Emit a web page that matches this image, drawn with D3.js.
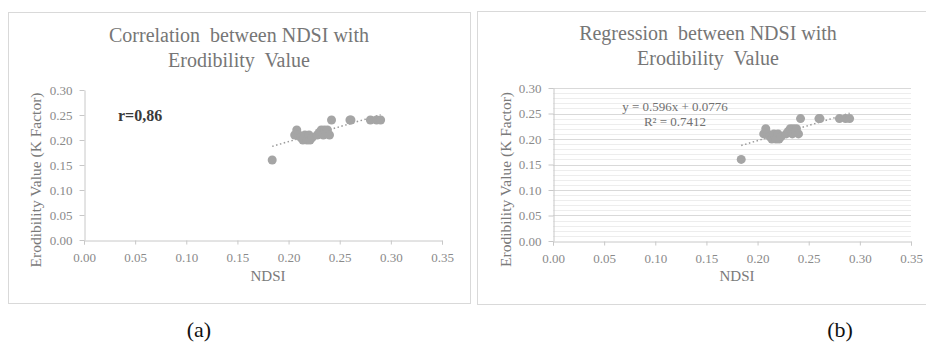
<!DOCTYPE html>
<html>
<head>
<meta charset="utf-8">
<script src="https://cdn.jsdelivr.net/npm/d3@7"></script>
<style>
  body { margin: 0; background: #fff; }
  svg { display: block; font-family: "Liberation Serif", "Times New Roman", serif; }
</style>
</head>
<body>
<svg id="chart" width="926" height="347"></svg>
<script>
// values
const ndsi = [0.184, 0.206, 0.208, 0.210, 0.212, 0.214, 0.216, 0.218, 0.220, 0.221, 0.223,
  0.228, 0.230, 0.232, 0.234, 0.235, 0.237, 0.238, 0.240, 0.242, 0.260, 0.261, 0.280, 0.286, 0.290];
const kFactor = [0.16, 0.21, 0.22, 0.21, 0.205, 0.20, 0.21, 0.20, 0.21, 0.20, 0.205,
  0.21, 0.215, 0.22, 0.21, 0.22, 0.215, 0.22, 0.21, 0.24, 0.24, 0.24, 0.24, 0.24, 0.24];
const xTicks = [0, 0.05, 0.10, 0.15, 0.20, 0.25, 0.30, 0.35];
const yTicks = [0, 0.05, 0.10, 0.15, 0.20, 0.25, 0.30];
const slope = 0.596, intercept = 0.0776;
const trendRange = [0.184, 0.29];

const svg = d3.select("#chart");

function drawPanel(p) {
  // frame around chart
  svg.append("rect")
    .attr("x", p.frame[0] + 0.5).attr("y", p.frame[1] + 0.5)
    .attr("width", p.frame[2]).attr("height", p.frame[3])
    .attr("fill", "#fff").attr("stroke", "#d9d9d9");

  const x = d3.scaleLinear().domain([0, 0.35]).range([p.left, p.right]);
  const y = d3.scaleLinear().domain([0, 0.30]).range([p.bottom, p.top]);
  const g = svg.append("g");

  // gridlines (only on the regression chart)
  if (p.grid) {
    g.selectAll(".minor").data(d3.range(1, 30).filter(i => i % 5 !== 0).map(i => i / 100))
      .join("line")
      .attr("x1", p.left).attr("x2", p.right)
      .attr("y1", d => Math.round(y(d)) + 0.5).attr("y2", d => Math.round(y(d)) + 0.5)
      .attr("stroke", "#ededed");
    g.selectAll(".major").data(yTicks.slice(1))
      .join("line")
      .attr("x1", p.left).attr("x2", p.right)
      .attr("y1", d => Math.round(y(d)) + 0.5).attr("y2", d => Math.round(y(d)) + 0.5)
      .attr("stroke", "#d9d9d9");
  }

  // axes
  const xAxis = g.append("g")
    .attr("transform", `translate(0,${Math.round(p.bottom) + 0.5})`)
    .call(d3.axisBottom(x).tickValues(xTicks).tickFormat(d3.format(".2f")).tickSizeInner(4).tickSizeOuter(4).tickPadding(8));
  const yAxis = g.append("g")
    .attr("transform", `translate(${Math.round(p.left) + 0.5},0)`)
    .call(d3.axisLeft(y).tickValues(yTicks).tickFormat(d3.format(".2f")).tickSizeInner(5).tickSizeOuter(0).tickPadding(7));
  [xAxis, yAxis].forEach(a => {
    a.selectAll("path, line").attr("stroke", "#c8c8c8");
    a.selectAll("text").attr("fill", "#8a8a8a").style("font-size", "13px")
      .style("font-family", "'Liberation Serif', serif");
  });

  // trendline
  g.append("line")
    .attr("x1", x(trendRange[0])).attr("y1", y(slope * trendRange[0] + intercept))
    .attr("x2", x(trendRange[1])).attr("y2", y(slope * trendRange[1] + intercept))
    .attr("stroke", "#9a9a9a").attr("stroke-width", 1.5).attr("stroke-dasharray", "1.5,2.5");

  // points
  g.selectAll("circle").data(ndsi)
    .join("circle")
    .attr("cx", d => x(d)).attr("cy", (d, i) => y(kFactor[i]))
    .attr("r", 4.5).attr("fill", "#a5a5a5");

  // titles
  p.title.forEach((t, i) => {
    svg.append("text").attr("x", p.titleX).attr("y", p.titleY + i * 25)
      .attr("text-anchor", "middle").attr("fill", "#767676")
      .style("font-size", "20px").attr("xml:space", "preserve").text(t);
  });
  svg.append("text").attr("x", (p.left + p.right) / 2 + 5).attr("y", 281)
    .attr("text-anchor", "middle").attr("fill", "#7a7a7a").style("font-size", "15px").text("NDSI");
  svg.append("text")
    .attr("transform", `translate(${p.yTitleX},${(p.top + p.bottom) / 2 + 15}) rotate(-90)`)
    .attr("text-anchor", "middle").attr("fill", "#7a7a7a").style("font-size", "15.5px")
    .text("Erodibility Value (K Factor)");

  svg.append("text").attr("x", p.tag[0]).attr("y", 337).attr("text-anchor", "middle")
    .attr("fill", "#111").style("font-size", "22px").text(p.tag[1]);
  return { x, y };
}

const a = drawPanel({
  frame: [8, 12, 462, 291], left: 84, right: 442, top: 90, bottom: 240, grid: false,
  title: ["Correlation  between NDSI with", "Erodibility  Value"], titleX: 239, titleY: 42,
  yTitleX: 41, tag: [199, "(a)"]
});
svg.append("text").attr("x", 118).attr("y", 121).attr("fill", "#3a3a3a")
  .style("font-size", "16px").style("font-weight", "bold").text("r=0,86");

const b = drawPanel({
  frame: [477, 11, 460, 293], left: 553, right: 911, top: 88, bottom: 241, grid: true,
  title: ["Regression  between NDSI with", "Erodibility  Value"], titleX: 708, titleY: 40,
  yTitleX: 511, tag: [840, "(b)"]
});
svg.append("text").attr("x", 675).attr("y", 111).attr("text-anchor", "middle").attr("fill", "#707070")
  .style("font-size", "13px").text("y = 0.596x + 0.0776");
svg.append("text").attr("x", 675).attr("y", 126).attr("text-anchor", "middle").attr("fill", "#707070")
  .style("font-size", "13px").text("R² = 0.7412");
</script>
</body>
</html>
